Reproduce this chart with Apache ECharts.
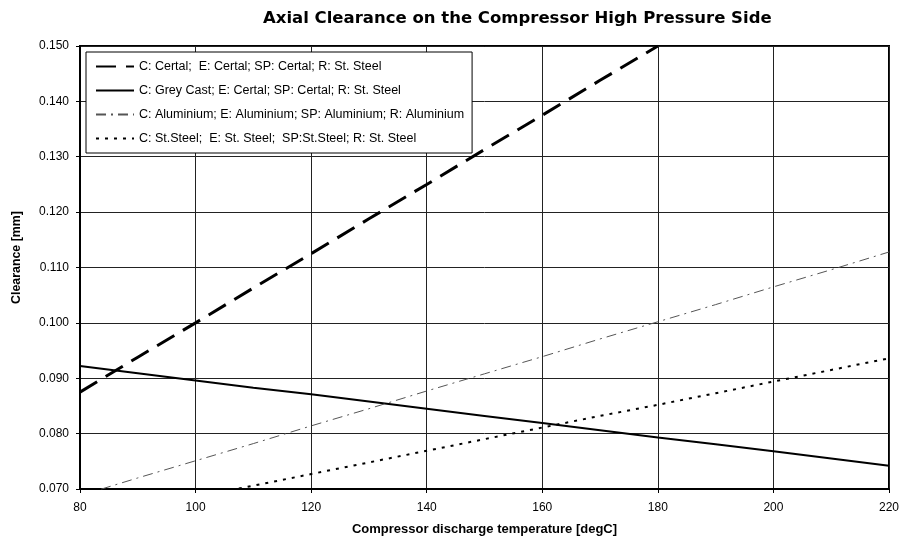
<!DOCTYPE html>
<html>
<head>
<meta charset="utf-8">
<title>Axial Clearance</title>
<script src="https://cdn.jsdelivr.net/npm/echarts@6/dist/echarts.min.js"></script>
<style>
  html, body { margin: 0; padding: 0; background: #fff; }
  #chart { width: 899px; height: 539px; }
</style>
</head>
<body>
<div id="chart"></div>
<script>
// temperatures [degC]
var temps = [80, 90, 100, 110, 120, 130, 140, 150, 160, 170, 180, 190, 200, 210, 220];

// clearance [mm] per material combination
var certal = [0.0875, 0.0938, 0.1000, 0.1063, 0.1125, 0.1188, 0.1250, 0.1313, 0.1375, 0.1438, 0.1500];
var greyCast = [0.0922, 0.0909, 0.0896, 0.0883, 0.0871, 0.0858, 0.0845, 0.0832, 0.0819, 0.0806, 0.0793, 0.0781, 0.0768, 0.0755, 0.0742];
var aluminium = [0.0688, 0.0720, 0.0751, 0.0782, 0.0814, 0.0845, 0.0877, 0.0908, 0.0939, 0.0971, 0.1002, 0.1033, 0.1065, 0.1096, 0.1128];
var stSteel = [0.0643, 0.0664, 0.0685, 0.0706, 0.0727, 0.0748, 0.0769, 0.0790, 0.0811, 0.0832, 0.0852, 0.0873, 0.0894, 0.0915, 0.0936];

var names = [
    'C: Certal;  E: Certal; SP: Certal; R: St. Steel',
    'C: Grey Cast; E: Certal; SP: Certal; R: St. Steel',
    'C: Aluminium; E: Aluminium; SP: Aluminium; R: Aluminium',
    'C: St.Steel;  E: St. Steel;  SP:St.Steel; R: St. Steel'
];

function pairs(vals) {
    var out = [];
    for (var i = 0; i < vals.length; i++) out.push([temps[i], vals[i]]);
    return out;
}

var chart = echarts.init(document.getElementById('chart'));
var option = {
    animation: false,
    backgroundColor: '#fff',
    textStyle: { fontFamily: 'Liberation Sans, Arial, sans-serif' },
    title: {
        text: 'Axial Clearance on the Compressor High Pressure Side',
        left: 258,
        top: 5,
        textStyle: { fontSize: 16.5, fontWeight: 'bold', color: '#000', fontFamily: 'DejaVu Sans' }
    },
    legend: {
        orient: 'vertical',
        left: 86,
        top: 52,
        padding: [8, 8, 8, 9],
        itemWidth: 38,
        itemHeight: 14,
        itemGap: 11,
        backgroundColor: '#fff',
        borderColor: '#000',
        borderWidth: 1,
        itemStyle: { opacity: 0 },
        textStyle: { fontSize: 12.5, color: '#000' },
        data: names
    },
    grid: {
        left: 80, right: 10, top: 46, bottom: 50,
        outerBoundsMode: 'none',
        containLabel: false,
        show: true,
        borderColor: '#000',
        borderWidth: 2
    },
    xAxis: {
        type: 'value',
        min: 80, max: 220, interval: 20,
        name: 'Compressor discharge temperature [degC]',
        nameLocation: 'middle',
        nameGap: 34,
        nameTextStyle: { fontSize: 13, fontWeight: 'bold', color: '#000' },
        axisLine: { lineStyle: { color: '#000', width: 2 } },
        axisTick: { show: true, length: 4, lineStyle: { color: '#000' } },
        axisLabel: { fontSize: 12, color: '#000', margin: 13 },
        splitLine: { lineStyle: { color: '#222', width: 1 } }
    },
    yAxis: {
        type: 'value',
        min: 0.07, max: 0.15, interval: 0.01,
        name: 'Clearance [mm]',
        nameLocation: 'middle',
        nameGap: 57,
        nameTextStyle: { fontSize: 12.4, fontWeight: 'bold', color: '#000', padding: [0, 0, 0, 20] },
        axisLine: { show: true, lineStyle: { color: '#000', width: 2 } },
        axisTick: { show: true, length: 4, lineStyle: { color: '#000' } },
        axisLabel: {
            fontSize: 12, color: '#000', margin: 11,
            formatter: function (v) { return v.toFixed(3); }
        },
        splitLine: { lineStyle: { color: '#222', width: 1 } }
    },
    series: [
        {
            name: names[0], type: 'line', data: pairs(certal),
            symbol: 'none', clip: true,
            lineStyle: { color: '#000', width: 3, type: [20, 10] },
            itemStyle: { color: '#000' }
        },
        {
            name: names[1], type: 'line', data: pairs(greyCast),
            symbol: 'none', clip: true,
            lineStyle: { color: '#000', width: 2, type: 'solid' },
            itemStyle: { color: '#000' }
        },
        {
            name: names[2], type: 'line', data: pairs(aluminium),
            symbol: 'none', clip: true,
            lineStyle: { color: '#555', width: 1, type: [10, 5, 2, 5] },
            itemStyle: { color: '#555' }
        },
        {
            name: names[3], type: 'line', data: pairs(stSteel),
            symbol: 'none', clip: true,
            lineStyle: { color: '#000', width: 2, type: [3, 6] },
            itemStyle: { color: '#000' }
        }
    ]
};
chart.setOption(option);
</script>
</body>
</html>
